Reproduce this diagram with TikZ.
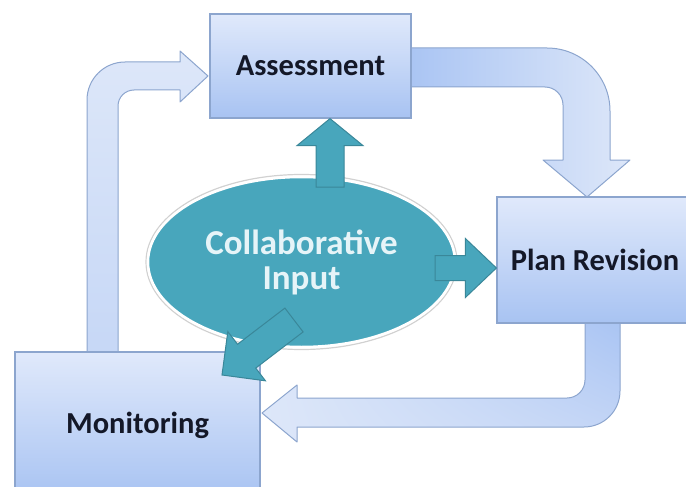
\documentclass[tikz,border=0pt]{standalone}
\usepackage{fontspec}
\setmainfont{Carlito}
\usetikzlibrary{calc,shapes.geometric,shadings}
\definecolor{boxtop}{HTML}{E0E9FB}
\definecolor{boxbot}{HTML}{A8C3F2}
\definecolor{boxline}{HTML}{8CA5CE}
\definecolor{tealfill}{HTML}{48A6BC}
\definecolor{tealline}{HTML}{3A8799}
\definecolor{arlight}{HTML}{DDE7F9}
\definecolor{armid}{HTML}{C6D7F6}
\definecolor{ardark}{HTML}{A9C4F3}
\definecolor{txtc}{HTML}{141828}
\definecolor{elltxt}{HTML}{E6F4F8}
\newcommand\blockarrow[6]{%
  \path ($(#3)!#6!(#2)$) coordinate (bahead);
  \draw[#1] ($(#2)!#4!90:(#3)$) -- ($(bahead)!#4!90:(#3)$) -- ($(bahead)!#5!90:(#3)$) -- (#3)
    -- ($(bahead)!#5!-90:(#3)$) -- ($(bahead)!#4!-90:(#3)$) -- ($(#2)!#4!-90:(#3)$) -- cycle;}
\begin{document}
\begin{tikzpicture}[x=1pt,y=-1pt,
  boxnode/.style={draw=boxline, line width=1.2pt, top color=boxtop, bottom color=boxbot,
    font=\fontsize{30.5}{34}\selectfont\bfseries, text=txtc, inner sep=0pt},
  bigarrow/.style={draw=boxline, line width=1pt, line join=round},
  tealarrow/.style={fill=tealfill, draw=tealline, line width=1pt, line join=miter}]
\useasboundingbox (0,0) rectangle (686,487);
\begin{scope}
\clip (0,0) rectangle (686,487);
% big light arrows
% Monitoring -> Assessment
\path[bigarrow, top color=arlight, bottom color=armid]
  (87,360) -- (87,100) .. controls (87,79) and (104,62) .. (125,62) -- (180,62) -- (180,51)
  -- (208,76) -- (180,102) -- (180,90) -- (134,90) .. controls (125.2,90) and (118,97.2) .. (118,106)
  -- (118,360) -- cycle;
% Assessment -> Plan Revision
\path[bigarrow, left color=ardark, right color=arlight]
  (405,48) -- (547,48) .. controls (581.8,48) and (610,76.2) .. (610,111) -- (610,160) -- (630,160)
  -- (587,197) -- (543,160) -- (563,160) -- (563,105) .. controls (563,95.1) and (554.9,87) .. (545,87)
  -- (405,87) -- cycle;
% Plan Revision -> Monitoring
\path[bigarrow, upper right=ardark, upper left=arlight, lower left=arlight, lower right=armid]
  (585,318) -- (585,380) .. controls (585,389.9) and (576.9,398) .. (567,398) -- (297,398) -- (297,385)
  -- (262,413) -- (297,442) -- (297,427) -- (584,427) .. controls (603.9,427) and (620,410.9) .. (620,391)
  -- (620,318) -- cycle;
% boxes
\node[boxnode, minimum width=201pt, minimum height=104pt] (ass) at (310.5,66) {Assessment};
\node[boxnode, minimum width=196pt, minimum height=126pt] (pr) at (595,260) {Plan Revision};
\node[boxnode, minimum width=245pt, minimum height=146pt] (mon) at (137.5,425) {Monitoring};
% ellipse
\draw[black!18, line width=1.2pt] (301.5,262) ellipse [x radius=155.5pt, y radius=87.5pt];
\node[ellipse, fill=tealfill, draw=white, line width=2.5pt, minimum width=307pt, minimum height=170pt,
  inner sep=0pt, align=center, text=elltxt, font=\fontsize{35}{35}\selectfont\bfseries] (col) at (301.5,262)
  {Collaborative\\Input};
% teal arrows
\coordinate (upS) at (330,187);
\coordinate (upE) at (ass.south -| upS);
\coordinate (rtS) at (435,268);
\coordinate (rtE) at (pr.west |- rtS);
\coordinate (dgS) at (294,320);
\coordinate (dgE) at (222,375);
\blockarrow{tealarrow}{upS}{upE}{14pt}{33pt}{27pt}
\blockarrow{tealarrow}{rtS}{rtE}{12.5pt}{29.5pt}{31pt}
\blockarrow{tealarrow}{dgS}{dgE}{15pt}{31pt}{31pt}
\end{scope}
\end{tikzpicture}
\end{document}
